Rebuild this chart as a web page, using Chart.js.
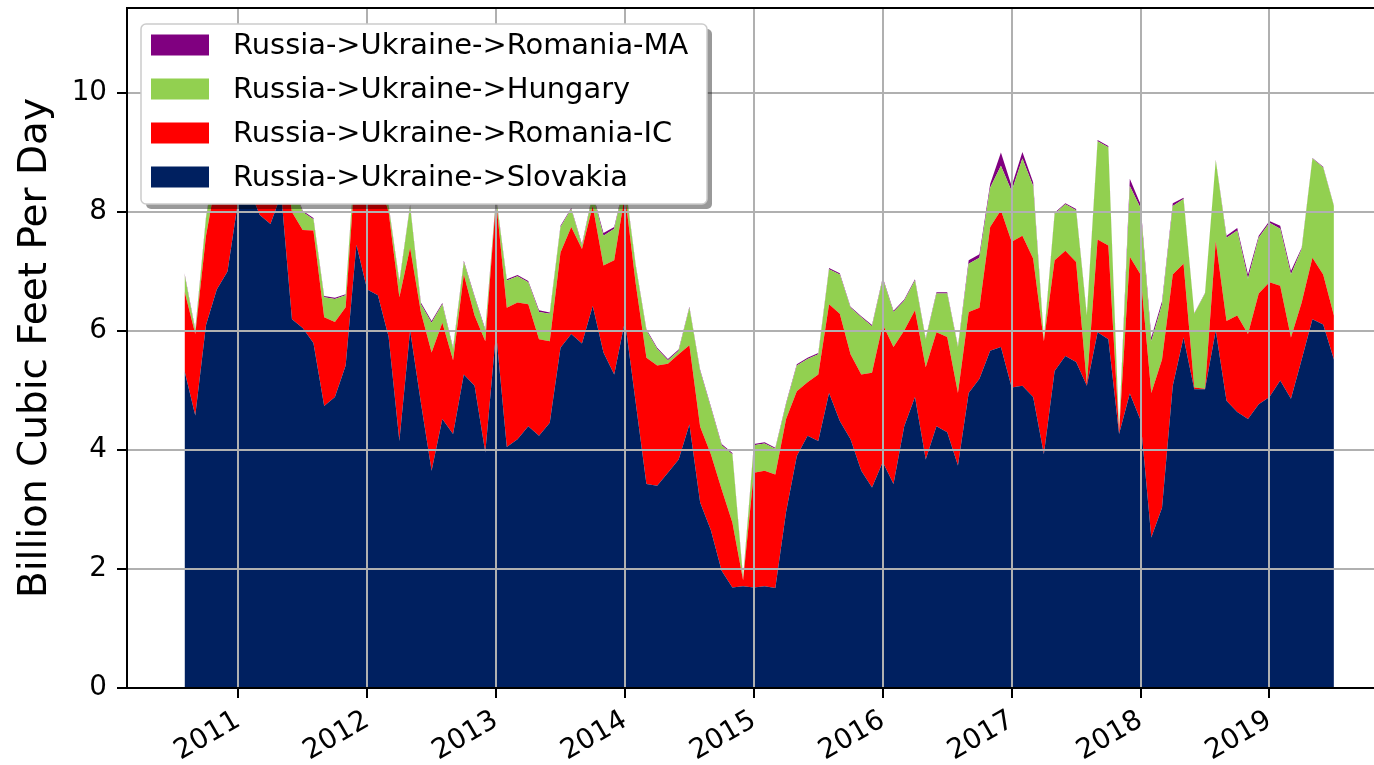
<!DOCTYPE html>
<html>
<head>
<meta charset="utf-8">
<script src="https://cdn.jsdelivr.net/npm/chart.js@4.4.1/dist/chart.umd.min.js"></script>
<style>
  html, body { margin: 0; padding: 0; background: #fff; overflow: hidden; }
  #wrap { width: 1374px; height: 765px; }
</style>
</head>
<body>
<div id="wrap"><canvas id="myChart" width="1374" height="765"></canvas></div>
<script>
// monthly series, Aug 2010 .. Jul 2019 (Bcf/d)
const firstYear = 2010;
const firstMonth = 8;

const slovakia = [
  5.33, 4.58, 6.1, 6.7, 7.0, 8.2, 8.4, 7.95, 7.8, 8.3, 6.2, 6.05, 5.8, 4.74, 4.89, 5.42, 7.45, 6.7, 6.6, 5.9,
  4.15, 6.01, 4.8, 3.65, 4.52, 4.27, 5.27, 5.08, 3.96, 5.98, 4.05, 4.18, 4.40, 4.24, 4.46, 5.72, 5.95, 5.79, 6.42, 5.64,
  5.27, 6.17, 4.8, 3.43, 3.40, 3.62, 3.84, 4.43, 3.12, 2.65, 1.97, 1.69, 1.71, 1.69, 1.71, 1.68, 2.96, 3.90, 4.24, 4.15,
  4.96, 4.49, 4.18, 3.65, 3.37, 3.80, 3.43, 4.40, 4.89, 3.84, 4.40, 4.3, 3.74, 4.96, 5.20, 5.67, 5.73, 5.05, 5.08, 4.89,
  3.93, 5.33, 5.58, 5.48, 5.08, 5.98, 5.86, 4.27, 4.95, 4.5, 2.53, 3.03, 5.08, 5.89, 5.02, 5.02, 6.01, 4.83, 4.64, 4.52,
  4.77, 4.89, 5.17, 4.86, 5.52, 6.20, 6.11, 5.52
];
const romaniaIC = [
  1.34, 1.37, 1.5, 1.9, 2.2, 1.4, 1.3, 1.35, 1.2, 0.9, 1.8, 1.65, 1.89, 1.49, 1.26, 0.98, 1.55, 2.1, 2.0, 2.1,
  2.42, 1.39, 1.52, 1.99, 1.62, 1.24, 1.68, 1.18, 1.87, 2.22, 2.34, 2.30, 2.05, 1.62, 1.37, 1.60, 1.80, 1.59, 1.68, 1.46,
  1.92, 2.13, 2.0, 2.12, 2.02, 1.83, 1.77, 1.33, 1.27, 1.28, 1.37, 1.09, 0.10, 1.93, 1.94, 1.91, 1.56, 1.09, 0.90, 1.12,
  1.49, 1.80, 1.43, 1.62, 1.93, 2.31, 2.30, 1.61, 1.46, 1.55, 1.58, 1.60, 1.22, 1.36, 1.19, 2.08, 2.30, 2.45, 2.52, 2.33,
  1.90, 1.86, 1.77, 1.68, 0.03, 1.56, 1.58, 0.03, 2.30, 2.45, 2.43, 2.49, 1.87, 1.24, 0.03, 0.01, 1.50, 1.34, 1.62, 1.43,
  1.86, 1.93, 1.59, 1.03, 0.96, 1.03, 0.84, 0.74
];
const hungary = [
  0.28, 0.06, 0.3, 0.4, 0.4, 0.4, 0.4, 0.4, 0.4, 0.3, 0.5, 0.3, 0.19, 0.34, 0.39, 0.2, 0.3, 0.3, 0.3, 0.1,
  0.25, 0.7, 0.13, 0.50, 0.31, 0.19, 0.21, 0.31, 0.18, 0.05, 0.46, 0.44, 0.37, 0.46, 0.46, 0.43, 0.30, 0.06, 0.2, 0.50,
  0.53, 0.2, 0.3, 0.46, 0.28, 0.06, 0.06, 0.63, 0.94, 0.78, 0.74, 1.15, 0.03, 0.46, 0.46, 0.43, 0.25, 0.43, 0.39, 0.34,
  0.59, 0.66, 0.78, 0.96, 0.78, 0.77, 0.59, 0.50, 0.50, 0.47, 0.65, 0.73, 0.77, 0.81, 0.84, 0.66, 0.75, 0.85, 1.30, 1.22,
  0.03, 0.78, 0.78, 0.87, 1.15, 1.65, 1.65, 0.03, 1.19, 1.12, 0.87, 0.93, 1.15, 1.09, 1.24, 1.60, 1.36, 1.40, 1.43, 0.93,
  0.94, 1.00, 0.96, 1.06, 0.90, 1.67, 1.80, 1.84
];
const romaniaMA = [
  0.02, 0.02, 0.02, 0.02, 0.02, 0.02, 0.02, 0.02, 0.02, 0.02, 0.02, 0.02, 0.02, 0.02, 0.02, 0.02, 0.02, 0.02, 0.02, 0.02,
  0.02, 0.02, 0.03, 0.03, 0.02, 0.02, 0.02, 0.02, 0.02, 0.02, 0.02, 0.02, 0.02, 0.03, 0.02, 0.02, 0.02, 0.02, 0.02, 0.05,
  0.03, 0.02, 0.02, 0.02, 0.02, 0.02, 0.02, 0.02, 0.02, 0.02, 0.02, 0.02, 0.02, 0.02, 0.02, 0.02, 0.02, 0.02, 0.02, 0.02,
  0.02, 0.02, 0.02, 0.02, 0.02, 0.02, 0.02, 0.02, 0.02, 0.02, 0.02, 0.02, 0.02, 0.06, 0.06, 0.06, 0.22, 0.09, 0.11, 0.06,
  0.02, 0.02, 0.02, 0.02, 0.02, 0.02, 0.02, 0.02, 0.12, 0.06, 0.06, 0.05, 0.05, 0.02, 0.01, 0.01, 0.01, 0.03, 0.04, 0.07,
  0.03, 0.03, 0.05, 0.06, 0.02, 0.01, 0.01, 0.01
];

const seriesNames = [
  'Russia->Ukraine->Slovakia',
  'Russia->Ukraine->Romania-IC',
  'Russia->Ukraine->Hungary',
  'Russia->Ukraine->Romania-MA'
];
const seriesColors = ['#002060', '#ff0000', '#92d050', '#800080'];

const yearTicks = [2011, 2012, 2013, 2014, 2015, 2016, 2017, 2018, 2019];
const yTicks = [0, 2, 4, 6, 8, 10];

const FONT = 'DejaVu Sans';
Chart.defaults.font.family = FONT;

const monthX = slovakia.map((_, i) => firstYear + (firstMonth - 1 + i) / 12);
const toPoints = arr => arr.map((v, i) => ({ x: monthX[i], y: v }));

// gridlines over the areas, spines and the legend box
const overlay = {
  id: 'overlay',
  afterDatasetsDraw(chart) {
    const { ctx, chartArea: a, scales: { x, y } } = chart;
    ctx.save();

    ctx.strokeStyle = '#b0b0b0';
    ctx.lineWidth = 2;
    ctx.beginPath();
    yearTicks.forEach(v => {
      const px = Math.round(x.getPixelForValue(v));
      ctx.moveTo(px, a.top);
      ctx.lineTo(px, a.bottom);
    });
    yTicks.forEach(v => {
      if (v === 0) return;
      const py = Math.round(y.getPixelForValue(v));
      ctx.moveTo(a.left, py);
      ctx.lineTo(a.right, py);
    });
    ctx.stroke();

    ctx.strokeStyle = '#000';
    ctx.lineWidth = 2;
    ctx.beginPath();
    ctx.moveTo(a.right, a.top);
    ctx.lineTo(a.left, a.top);
    ctx.lineTo(a.left, a.bottom);
    ctx.lineTo(a.right, a.bottom);
    ctx.stroke();

    // legend
    const lx = 141, ly = 24, lw = 566, lh = 180;
    ctx.fillStyle = 'rgba(0,0,0,0.4)';
    ctx.beginPath();
    ctx.roundRect(lx + 5, ly + 5, lw, lh, 5);
    ctx.fill();
    ctx.fillStyle = '#fff';
    ctx.strokeStyle = '#cccccc';
    ctx.lineWidth = 1.5;
    ctx.beginPath();
    ctx.roundRect(lx, ly, lw, lh, 5);
    ctx.fill();
    ctx.stroke();

    ctx.font = '28.9px "' + FONT + '"';
    ctx.textBaseline = 'middle';
    ctx.textAlign = 'left';
    for (let k = 0; k < 4; k++) {
      const idx = 3 - k;
      const cy = 45 + k * 44;
      ctx.fillStyle = seriesColors[idx];
      ctx.fillRect(151, cy - 10.5, 58, 21);
      ctx.fillStyle = '#000';
      ctx.fillText(seriesNames[idx], 233, cy + 1);
    }
    ctx.restore();
  }
};

const datasets = [slovakia, romaniaIC, hungary, romaniaMA].map((arr, i) => ({
  label: seriesNames[i],
  data: toPoints(arr),
  backgroundColor: seriesColors[i],
  borderColor: 'rgba(0,0,0,0)',
  borderWidth: 0,
  pointRadius: 0,
  tension: 0,
  fill: i === 0 ? 'origin' : '-1'
}));

const ctx = document.getElementById('myChart').getContext('2d');
const chart = new Chart(ctx, {
  type: 'line',
  data: { datasets: datasets },
  options: {
    responsive: false,
    animation: false,
    events: [],
    layout: { padding: { top: 8, left: 0, right: 0, bottom: 0 } },
    plugins: { legend: { display: false }, tooltip: { enabled: false } },
    scales: {
      x: {
        type: 'linear',
        min: 2010.137,
        max: 2019.811,
        afterBuildTicks: s => { s.ticks = yearTicks.map(v => ({ value: v })); },
        afterFit: s => {
          s.height = 77;
          s.paddingLeft = 0; s.paddingRight = 0; s.paddingTop = 0; s.paddingBottom = 0;
        },
        grid: { drawOnChartArea: false, drawTicks: true, tickLength: 10, color: '#000', lineWidth: 2 },
        border: { display: false },
        ticks: {
          autoSkip: false,
          minRotation: 30,
          maxRotation: 30,
          padding: 6,
          color: '#000',
          font: { size: 27.8 },
          callback: v => String(v)
        }
      },
      y: {
        stacked: true,
        min: 0,
        max: 11.43,
        afterBuildTicks: s => { s.ticks = yTicks.map(v => ({ value: v })); },
        afterFit: s => {
          s.width = 127;
          s.paddingLeft = 0; s.paddingRight = 0; s.paddingTop = 0; s.paddingBottom = 0;
        },
        grid: { drawOnChartArea: false, drawTicks: true, tickLength: 10, color: '#000', lineWidth: 2 },
        border: { display: false },
        ticks: {
          padding: 10,
          color: '#000',
          font: { size: 27.8 },
          callback: v => String(v)
        },
        title: {
          display: true,
          text: 'Billion Cubic Feet Per Day',
          color: '#000',
          font: { size: 39 },
          padding: { top: 12, bottom: 0 }
        }
      }
    }
  },
  plugins: [overlay]
});
</script>
</body>
</html>
